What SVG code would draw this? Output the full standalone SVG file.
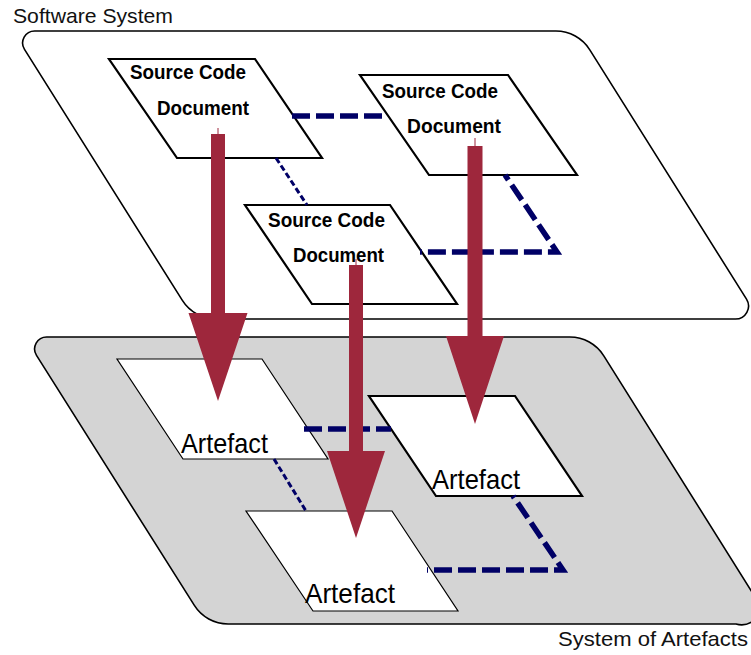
<svg xmlns="http://www.w3.org/2000/svg" width="751" height="655" viewBox="0 0 751 655">
<style>
.plane{stroke:#000;stroke-width:1.6;stroke-linejoin:round}
.doc{fill:#fff;stroke:#000;stroke-width:2.2;stroke-linejoin:miter}
.art{fill:#fff;stroke:#000;stroke-width:1.2}
.art2{fill:#fff;stroke:#000;stroke-width:2.2}
.dash{fill:none;stroke:#000066;stroke-width:5.5;stroke-dasharray:18 6;stroke-linejoin:miter;stroke-miterlimit:6}
.thin{fill:none;stroke:#000066;stroke-width:3;stroke-dasharray:6 3}
.arrow{fill:#9e273c}
.tick{stroke:#9e273c;stroke-width:1}
.lbl{font-family:"Liberation Sans",Arial,sans-serif;font-size:21px;fill:#111}
.dt{font-family:"Liberation Sans",Arial,sans-serif;font-size:20px;font-weight:bold;fill:#000}
.at{font-family:"Liberation Sans",Arial,sans-serif;font-size:28px;fill:#000}
</style>
<g id="plane-artefacts">
<path class="plane" fill="#d4d4d4" d="M46.7,337 H569.8 A40,40 0 0 1 603.8,355.8 L761.4,607 A20,20 0 0 1 736,624 H228.2 A40,40 0 0 1 194.2,605.2 L36.5,355.4 A12,12 0 0 1 46.7,337 Z"/>
<text class="lbl" x="558" y="646" textLength="190" lengthAdjust="spacingAndGlyphs">System of Artefacts</text>
</g>
<g id="plane-software">
<path class="plane" fill="#fff" d="M34.7,31 H555.8 A40,40 0 0 1 589.8,49.8 L746.5,299.1 A13,13 0 0 1 735.5,319 H216.2 A40,40 0 0 1 182.2,300.2 L24.5,49.4 A12,12 0 0 1 34.7,31 Z"/>
<text class="lbl" x="13" y="23" textLength="160" lengthAdjust="spacingAndGlyphs">Software System</text>
</g>
<g id="doc1">
<polygon class="doc" points="109,59 255,59 322,158 177,158"/>
<text class="dt" x="130" y="79" textLength="116" lengthAdjust="spacingAndGlyphs">Source Code</text>
<text class="dt" x="157" y="115" textLength="92" lengthAdjust="spacingAndGlyphs">Document</text>
</g>
<g id="doc2">
<polygon class="doc" points="360,75 508,75 577,175 429,175"/>
<text class="dt" x="382" y="98" textLength="116" lengthAdjust="spacingAndGlyphs">Source Code</text>
<text class="dt" x="407" y="133" textLength="94" lengthAdjust="spacingAndGlyphs">Document</text>
</g>
<g id="doc3">
<polygon class="doc" points="245,205 390,205 457,304 312,304"/>
<text class="dt" x="268" y="227" textLength="117" lengthAdjust="spacingAndGlyphs">Source Code</text>
<text class="dt" x="293" y="262" textLength="91" lengthAdjust="spacingAndGlyphs">Document</text>
</g>
<g id="artefact1">
<polygon class="art" points="117,359 262,359 328,459 183,459"/>
<text class="at" x="181" y="453" textLength="87" lengthAdjust="spacingAndGlyphs">Artefact</text>
</g>
<g id="artefact2">
<polygon class="art2" points="369,396 515,396 582,496 436,496"/>
<text class="at" x="432" y="489" textLength="88" lengthAdjust="spacingAndGlyphs">Artefact</text>
</g>
<g id="artefact3">
<polygon class="art" points="246,511 392,511 458,611 313,611"/>
<text class="at" x="305" y="603" textLength="90" lengthAdjust="spacingAndGlyphs">Artefact</text>
</g>
<g id="connectors">
<line class="dash" x1="292" y1="116" x2="388" y2="116"/>
<line class="thin" x1="276" y1="158" x2="307" y2="205"/>
<polyline class="dash" style="stroke-dashoffset:12" points="505,175 557,252 420,252"/>
<line class="dash" x1="304" y1="429" x2="391" y2="429"/>
<line class="thin" x1="274" y1="459" x2="306" y2="511"/>
<polyline class="dash" style="stroke-dashoffset:15.7" points="513,496 563,570 427,570"/>
<line class="tick" x1="218" y1="128" x2="218" y2="134"/>
<path class="arrow" d="M211,134 H225 V313 H247.5 L218,401 L188.5,313 H211 Z"/>
<line class="tick" x1="475" y1="138" x2="475" y2="146"/>
<path class="arrow" d="M467.5,146 H482.5 V336 H504 L475,424 L446,336 H467.5 Z"/>
<line class="tick" x1="356" y1="259" x2="356" y2="265"/>
<path class="arrow" d="M349,265 H363 V451 H385 L356,538 L327,451 H349 Z"/>
</g>
</svg>
